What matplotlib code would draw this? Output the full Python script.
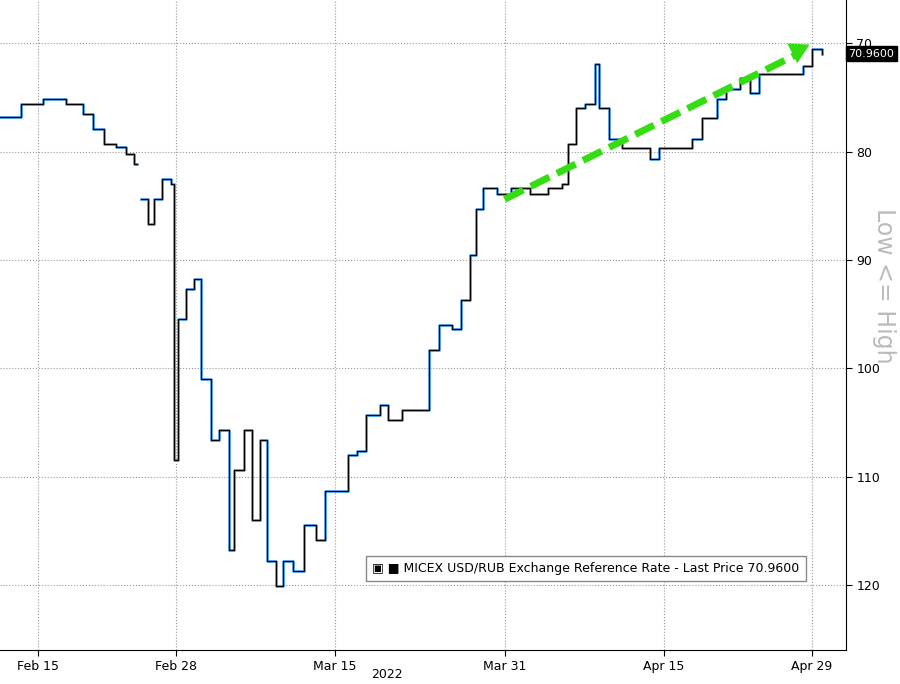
import matplotlib
matplotlib.use("Agg")
import matplotlib.pyplot as plt
import numpy as np
import datetime as dt

base = dt.datetime(2022, 2, 15)
day_offsets = [-3.6,-1.6,0.5,2.6,4.2,5.2,6.2,7.3,8.3,9.0,9.35,9.7,10.4,10.9,11.7,12.5,12.8,13.2,13.9,14.7,15.4,16.3,17.1,18.0,18.5,19.4,20.2,20.9,21.6,22.4,23.1,24.0,25.1,26.2,27.1,28.3,29.2,30.1,30.9,32.2,33.0,34.3,36.0,36.9,37.8,39.0,39.9,40.7,41.3,42.0,43.3,44.6,46.4,48.1,49.4,50.0,50.7,51.6,52.5,52.9,53.8,55.1,56.4,57.7,58.6,60.4,61.7,62.6,64.0,64.9,66.2,67.1,68.0,69.4,70.8,72.1,73.0,73.9]
rates = [76.8,75.6,75.1,75.6,76.5,77.9,79.3,79.6,80.2,81.1,np.nan,84.4,86.7,84.4,82.5,83.0,108.5,95.5,92.7,91.8,101.0,106.6,105.7,116.8,109.4,105.7,114.0,106.6,117.8,120.1,117.8,118.7,114.5,115.9,111.3,111.3,108.0,107.6,104.3,103.4,104.8,103.9,103.9,98.3,96.0,96.4,93.7,89.5,85.3,83.4,83.9,83.4,83.9,83.4,83.0,79.3,76.0,75.6,71.9,76.0,78.8,79.7,79.7,80.7,79.7,79.7,78.8,76.9,75.1,74.2,73.2,74.6,72.8,72.8,72.8,72.1,70.5,70.96]
tick_dates = ["2022-02-15","2022-02-28","2022-03-15","2022-03-31","2022-04-15","2022-04-29"]
tick_labels = ["Feb 15","Feb 28","Mar 15","Mar 31","Apr 15","Apr 29"]
y_ticks = [70,80,90,100,110,120]
last_price = 70.96

x = [base + dt.timedelta(days=d) for d in day_offsets]
fig = plt.figure(figsize=(9, 6.84), dpi=100)
ax = fig.add_axes([0, 0.05, 0.94, 0.95])
ax.step(x, rates, where="post", color="#2a7fd4", lw=1.8)
ax.step(x, rates, where="post", color="black", lw=0.7)
ax.set_ylim(126, 66)
ax.set_xlim(base + dt.timedelta(days=-3.6), base + dt.timedelta(days=76.2))
ax.set_xticks([dt.datetime.strptime(d, "%Y-%m-%d") for d in tick_dates])
ax.set_xticklabels(tick_labels, fontsize=9)
ax.set_yticks(y_ticks)
ax.yaxis.tick_right()
ax.tick_params(axis="y", labelsize=9, length=4)
ax.tick_params(axis="x", labelsize=9, length=4)
ax.grid(True, ls=":", color="#999999", lw=0.8)
for s in ["top", "left"]:
    ax.spines[s].set_visible(False)
ax.annotate("", xy=(base + dt.timedelta(days=73), 70.0), xytext=(base + dt.timedelta(days=44), 84.4),
            arrowprops=dict(arrowstyle="simple,head_width=1.6,head_length=1.4,tail_width=0.01",
                            color="#33dd11", lw=0))
ax.plot([base + dt.timedelta(days=44), base + dt.timedelta(days=71.6)], [84.4, 71.0],
        color="#33dd11", lw=5, ls=(0, (3, 1.2)), solid_capstyle="butt")
ax.text(1.003, (126 - last_price) / 60, "70.9600", transform=ax.transAxes, va="center", ha="left",
        color="white", fontsize=8, bbox=dict(boxstyle="square,pad=0.2", fc="black", ec="black"))
ax.text(1.045, 0.56, "Low <= High", transform=ax.transAxes, rotation=270, va="center", ha="center",
        color="#bbbbbb", fontsize=17)
ax.text(0.44, 0.125, "\u25a3 \u25a0 MICEX USD/RUB Exchange Reference Rate - Last Price 70.9600", transform=ax.transAxes,
        fontsize=9, va="center", bbox=dict(boxstyle="square,pad=0.5", fc="white", ec="#888888"))
fig.text(0.43, 0.005, "2022", fontsize=9, ha="center", va="bottom")
fig.savefig("out.png", dpi=100)
